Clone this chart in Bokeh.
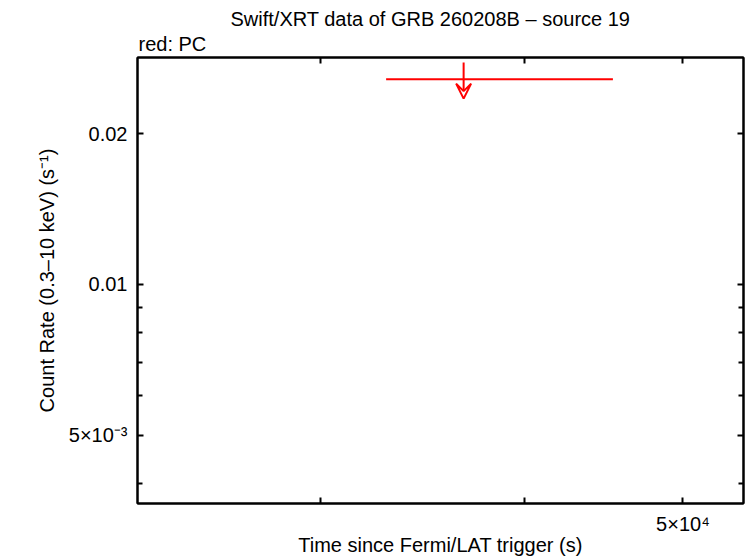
from bokeh.plotting import figure
from bokeh.models import (LogAxis, FixedTicker, Arrow, VeeHead, Title, Range1d,
                          ColumnDataSource)
from bokeh.embed import file_html
from bokeh.resources import INLINE

# ---- data ----
title_text = "Swift/XRT data of GRB 260208B \u2013 source 19"
subtitle_text = "red: PC"
x_label = "Time since Fermi/LAT trigger (s)"
y_label = "Count Rate (0.3\u201310 keV) (s\u207b\u00b9)"

ul_time = [36700.0]
ul_time_lo = [32900.0]
ul_time_hi = [45300.0]
ul_rate = [0.0257]

x_ticks = [30000, 40000, 50000]
x_tick_labels = ["", "", "5\u00d710\u2074"]
y_ticks = [0.005, 0.01, 0.02]
y_tick_labels = ["5\u00d710\u207b\u00b3", "0.01", "0.02"]
y_minor = [0.004, 0.006, 0.007, 0.008, 0.009]

x_lim = (23170, 54460)
y_lim = (0.003651, 0.02841)

FONT = "Liberation Sans"
W, H = 746, 558
BL, BR, BT, BB = 137, 3, 57, 51

p = figure(width=W, height=H, x_axis_type="log", y_axis_type="log",
           x_range=Range1d(*x_lim), y_range=Range1d(*y_lim),
           output_backend="svg", toolbar_location=None,
           min_border_left=BL, min_border_right=BR,
           min_border_top=BT, min_border_bottom=BB)
p.xgrid.visible = False
p.ygrid.visible = False
p.outline_line_color = "black"
p.outline_line_width = 2
p.background_fill_color = "white"
p.border_fill_color = "white"

def style(ax):
    ax.axis_line_width = 2
    ax.major_tick_in = 6
    ax.major_tick_out = 0
    ax.minor_tick_in = 5
    ax.minor_tick_out = 0
    ax.major_tick_line_width = 2
    ax.minor_tick_line_width = 2
    ax.major_label_text_font = FONT
    ax.major_label_text_font_size = "20px"
    ax.major_label_text_color = "black"
    ax.axis_label_text_font = FONT
    ax.axis_label_text_font_size = "20px"
    ax.axis_label_text_font_style = "normal"
    ax.axis_label_text_color = "black"

def hide_labels(ax, ticks):
    ax.major_label_overrides = {t: "" for t in ticks}
    ax.major_label_text_color = None
    ax.major_label_text_font_size = "1px"
    ax.major_label_standoff = 0

xa = p.xaxis[0]
xa.ticker = FixedTicker(ticks=x_ticks, minor_ticks=[])
xa.major_label_overrides = {t: l for t, l in zip(x_ticks, x_tick_labels)}
xa.axis_label = x_label
style(xa)
xa.major_label_standoff = 9
xa.axis_label_standoff = -4

ya = p.yaxis[0]
ya.ticker = FixedTicker(ticks=y_ticks, minor_ticks=y_minor)
ya.major_label_overrides = {t: l for t, l in zip(y_ticks, y_tick_labels)}
ya.axis_label = y_label
style(ya)
ya.major_label_standoff = 10
ya.axis_label_standoff = 8

top = LogAxis(ticker=FixedTicker(ticks=x_ticks, minor_ticks=[]))
style(top)
hide_labels(top, x_ticks)
p.add_layout(top, "above")
right = LogAxis(ticker=FixedTicker(ticks=y_ticks, minor_ticks=y_minor))
style(right)
hide_labels(right, y_ticks)
p.add_layout(right, "right")

p.add_layout(Title(text=subtitle_text, align="left", text_font=FONT,
                   text_font_size="20px", text_font_style="normal",
                   text_color="black", standoff=5, offset=1), "above")
p.add_layout(Title(text=title_text, align="left", text_font=FONT,
                   text_font_size="20px", text_font_style="normal",
                   text_color="black", standoff=-2, offset=93), "above")

src = ColumnDataSource(dict(t=ul_time, lo=ul_time_lo, hi=ul_time_hi, r=ul_rate,
                            r_top=[v * 1.08 for v in ul_rate],
                            r_bot=[v * 0.915 for v in ul_rate]))
p.segment(x0="lo", x1="hi", y0="r", y1="r", source=src, line_color="#ff0000", line_width=2)
p.add_layout(Arrow(x_start="t", y_start="r_top", x_end="t", y_end="r_bot", source=src,
                   line_color="#ff0000", line_width=2,
                   end=VeeHead(size=15, line_color="#ff0000", line_width=2, fill_alpha=0)))

open("out.html", "w").write(file_html(p, INLINE))
